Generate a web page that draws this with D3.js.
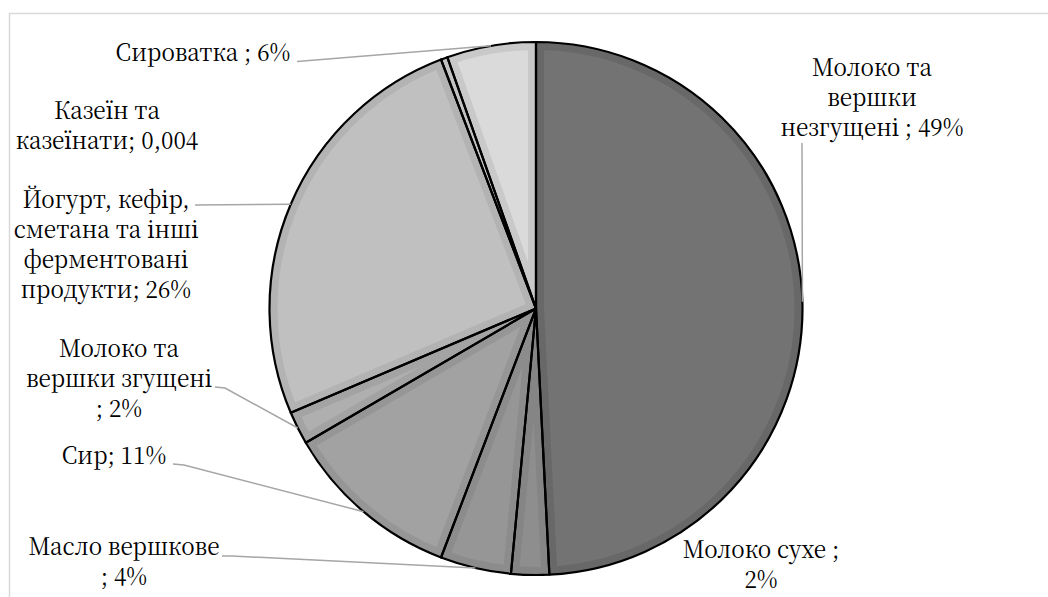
<!DOCTYPE html>
<html>
<head>
<meta charset="utf-8">
<script src="https://cdn.jsdelivr.net/npm/d3@7"></script>
<style>
  html, body { margin: 0; padding: 0; background: #ffffff; }
  svg { display: block; }
  text.lbl { font-family: "Noto Serif CJK SC", "DejaVu Serif", serif; }
</style>
</head>
<body>
<svg id="chart" width="1048" height="597"></svg>
<script>
// ---- data ----
const categories = [
  "Молоко та вершки незгущені",
  "Молоко сухе",
  "Масло вершкове",
  "Сир",
  "Молоко та вершки згущені",
  "Йогурт, кефір, сметана та інші ферментовані продукти",
  "Казеїн та казеїнати",
  "Сироватка"
];
const shares = [49.2, 2.3, 4.3, 10.8, 2.0, 25.6, 0.4, 5.4];
const labelLines = [
  ["Молоко та", "вершки", "незгущені ; 49%"],
  ["Молоко сухе ;", "2%"],
  ["Масло вершкове", "; 4%"],
  ["Сир; 11%"],
  ["Молоко та", "вершки згущені", "; 2%"],
  ["Йогурт, кефір,", "сметана та інші", "ферментовані", "продукти; 26%"],
  ["Казеїн та", "казеїнати; 0,004"],
  ["Сироватка ; 6%"]
];

// ---- styles / layout ----
const innerColors = ["#737373", "#8e8e8e", "#969696", "#a2a2a2", "#afafaf", "#c0c0c0", "#cdcdcd", "#dadada"];
const bandColors  = ["#686868", "#858585", "#8c8c8c", "#969696", "#a3a3a3", "#b3b3b3", "#c2c2c2", "#c9c9c9"];
// label anchor (center x, first baseline) and leader start (null = no leader)
const labelLayout = [
  { x: 872, y: 76,  lead: [[802, 143]] },
  { x: 761, y: 558, lead: null },
  { x: 124, y: 555, lead: [[222, 556], [232, 556]] },
  { x: 114, y: 464, lead: [[173, 464], [184, 465]] },
  { x: 119, y: 357, lead: [[215, 387], [225, 388]] },
  { x: 106, y: 208, lead: [[195, 205]] },
  { x: 107, y: 119, lead: null },
  { x: 203, y: 61,  lead: [[297, 61.5]] }
];
const cx = 536, cy = 308.5, R = 266.5;
const lineH = 30;
const fontSize = 24, squeeze = 0.94;

const svg = d3.select("#chart");

// outer frame (extends beyond the window on right/bottom)
svg.append("rect")
  .attr("x", 9.5).attr("y", 13.5)
  .attr("width", 1100).attr("height", 700)
  .attr("fill", "none").attr("stroke", "#d9d9d9").attr("stroke-width", 1.5);

const data = categories.map((c, i) => ({ name: c, value: shares[i], i }));
const pie = d3.pie().sort(null).value(d => d.value).startAngle(0).endAngle(2 * Math.PI);
const arcs = pie(data);
const arc = d3.arc().innerRadius(0).outerRadius(R);

const g = svg.append("g").attr("transform", `translate(${cx},${cy})`);
const defs = svg.append("defs");

arcs.forEach((a, k) => {
  defs.append("clipPath").attr("id", "clip" + k)
    .append("path").attr("d", arc(a));
});

// slice fills with inner bevel band
g.selectAll("path.slice")
  .data(arcs)
  .join("path")
  .attr("class", "slice")
  .attr("d", arc)
  .attr("clip-path", (d, k) => `url(#clip${k})`)
  .attr("fill", d => innerColors[d.data.i])
  .attr("stroke", d => bandColors[d.data.i])
  .attr("stroke-width", 16)
  .attr("stroke-linejoin", "round");

// black outlines
g.selectAll("path.outline")
  .data(arcs)
  .join("path")
  .attr("class", "outline")
  .attr("d", arc)
  .attr("fill", "none")
  .attr("stroke", "#000")
  .attr("stroke-width", 2.2)
  .attr("stroke-linejoin", "round");

// leader lines: end at slice mid-angle on the rim
const line = d3.line();
arcs.forEach(a => {
  const L = labelLayout[a.data.i];
  if (!L.lead) return;
  const mid = (a.startAngle + a.endAngle) / 2;
  const end = [cx + R * Math.sin(mid), cy - R * Math.cos(mid)];
  svg.append("path")
    .attr("d", line([...L.lead, end]))
    .attr("fill", "none")
    .attr("stroke", "#a6a6a6")
    .attr("stroke-width", 1.5);
});

// labels
arcs.forEach(a => {
  const L = labelLayout[a.data.i];
  const t = svg.append("text")
    .attr("class", "lbl")
    .attr("transform", `translate(${L.x},${L.y}) scale(${squeeze},1)`)
    .attr("text-anchor", "middle")
    .attr("font-size", fontSize)
    .attr("fill", "#000");
  labelLines[a.data.i].forEach((s, j) => {
    t.append("tspan").attr("x", 0).attr("y", j * lineH).text(s);
  });
});
</script>
</body>
</html>
